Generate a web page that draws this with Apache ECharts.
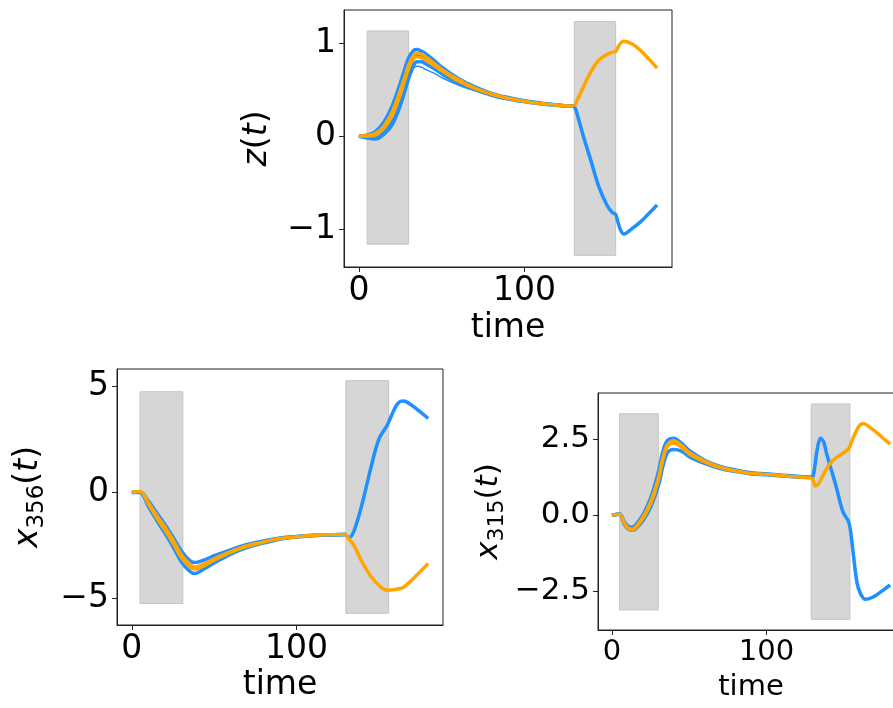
<!DOCTYPE html>
<html>
<head>
<meta charset="utf-8">
<script src="https://cdn.jsdelivr.net/npm/echarts@6/dist/echarts.min.js"></script>
<style>
html,body{margin:0;padding:0;background:#fff;}
#c{width:893px;height:708px;}
</style>
</head>
<body>
<div id="c"></div>
<script>
// ---------- Panel 1: z(t) ----------
var t1Pre = [0,5,10,15,20,25,28,30,33,35,38,40,45,50,60,70,80,90,100,110,120,130];
var zBlueA = [0,0.01,0.05,0.15,0.32,0.57,0.74,0.84,0.92,0.93,0.91,0.89,0.82,0.74,0.62,0.53,0.46,0.415,0.38,0.355,0.335,0.32];
var zBlueB = [0,-0.01,0.0,0.06,0.18,0.40,0.58,0.70,0.84,0.88,0.87,0.85,0.78,0.71,0.60,0.52,0.455,0.41,0.375,0.35,0.333,0.32];
var zBlueC = [0,-0.02,-0.03,0.02,0.12,0.33,0.50,0.62,0.76,0.80,0.80,0.78,0.73,0.67,0.57,0.50,0.44,0.40,0.37,0.345,0.33,0.32];
var zBlueD = [0,0,0.01,0.07,0.18,0.38,0.54,0.63,0.73,0.75,0.74,0.72,0.68,0.63,0.55,0.49,0.44,0.40,0.37,0.345,0.33,0.32];
var zOrangeA = [0,0.01,0.03,0.11,0.26,0.50,0.66,0.77,0.87,0.89,0.88,0.86,0.79,0.72,0.61,0.52,0.455,0.41,0.375,0.35,0.333,0.32];
var zOrangeB = [0,0,0.01,0.08,0.21,0.44,0.61,0.72,0.83,0.85,0.84,0.82,0.76,0.70,0.59,0.51,0.45,0.405,0.372,0.348,0.332,0.32];
var t1Post = [130,131,135,140,145,150,153,155,156,158,160,165,170,175,180];
var zBluePost = [0.32,0.28,0.03,-0.26,-0.55,-0.75,-0.82,-0.84,-0.90,-1.01,-1.05,-0.99,-0.92,-0.83,-0.74];
var zOrangePost = [0.32,0.36,0.51,0.69,0.82,0.88,0.90,0.91,0.94,1.0,1.02,0.99,0.92,0.83,0.73];
var zSpans = [[5,30,-1.16,1.13],[130,155,-1.28,1.23]];
var zTicks = [-1,0,1];

// ---------- Panel 2: x_356(t) ----------
var t2Pre = [0,5,10,15,20,25,30,35,38,40,45,50,60,70,80,90,100,110,120,130];
var aBlueA = [0,0.03,-0.4,-0.95,-1.5,-2.1,-2.75,-3.2,-3.3,-3.28,-3.15,-2.98,-2.7,-2.45,-2.28,-2.14,-2.07,-2.02,-1.99,-1.98];
var aBlueB = [0,0.0,-0.65,-1.3,-1.9,-2.55,-3.25,-3.7,-3.82,-3.78,-3.55,-3.32,-2.9,-2.6,-2.38,-2.2,-2.1,-2.04,-2.0,-1.98];
var aBlueC = [0,0.02,-0.52,-1.15,-1.7,-2.32,-3.0,-3.45,-3.58,-3.55,-3.38,-3.17,-2.8,-2.52,-2.33,-2.17,-2.09,-2.03,-1.99,-1.98];
var aOrangeA = [0,0.05,-0.45,-1.05,-1.6,-2.2,-2.9,-3.35,-3.5,-3.48,-3.32,-3.12,-2.78,-2.5,-2.32,-2.16,-2.08,-2.02,-1.98,-1.97];
var aOrangeB = [0,0.03,-0.55,-1.2,-1.78,-2.4,-3.08,-3.5,-3.62,-3.6,-3.42,-3.2,-2.83,-2.55,-2.35,-2.18,-2.1,-2.03,-1.99,-1.98];
var t2Post = [130,132,135,140,145,150,155,160,163,165,170,175,180];
var aBluePost = [-1.98,-2.12,-1.8,-0.5,1.1,2.5,3.15,4.0,4.28,4.3,4.1,3.8,3.48];
var aOrangePost = [-1.98,-2.2,-2.5,-3.3,-3.93,-4.37,-4.6,-4.57,-4.52,-4.47,-4.13,-3.74,-3.35];
var aSpans = [[5,31,-5.23,4.74],[130,156,-5.69,5.26]];
var aTicks = [-5,0,5];

// ---------- Panel 3: x_315(t) ----------
var t3Pre = [0,3,5,8,10,13,15,20,25,30,33,36,40,45,50,60,70,80,90,100,110,120,130];
var bBlueA = [0,0.02,0.03,-0.22,-0.35,-0.4,-0.35,0.0,0.55,1.4,2.1,2.45,2.52,2.36,2.12,1.8,1.6,1.48,1.39,1.35,1.31,1.27,1.24];
var bBlueB = [0,0.02,0.02,-0.3,-0.44,-0.5,-0.47,-0.2,0.25,0.95,1.6,2.05,2.15,2.1,1.92,1.7,1.53,1.43,1.35,1.32,1.28,1.25,1.23];
var bBlueC = [0,0.02,0.03,-0.26,-0.4,-0.46,-0.41,-0.1,0.39,1.16,1.87,2.3,2.41,2.26,2.03,1.76,1.57,1.46,1.37,1.34,1.3,1.26,1.24];
var bOrangeA = [0,0.02,0.02,-0.28,-0.43,-0.5,-0.45,-0.14,0.34,1.1,1.8,2.25,2.36,2.22,2.0,1.74,1.55,1.44,1.36,1.33,1.29,1.25,1.22];
var bOrangeB = [0,0.02,0.03,-0.25,-0.4,-0.46,-0.4,-0.07,0.44,1.22,1.92,2.32,2.45,2.3,2.06,1.78,1.58,1.46,1.37,1.34,1.3,1.26,1.24];
var t3BluePost = [130,131,133,135,137,139,141,145,149.5,153.4,156,158.6,161,164,168,172,176,180];
var bBluePost = [1.24,1.5,2.2,2.52,2.4,2.0,1.65,0.95,0.1,-0.26,-1.2,-2.23,-2.6,-2.77,-2.72,-2.6,-2.45,-2.3];
var t3OrangePost = [130,131.6,134,137,141,145,150,153.5,155,158,161,163,167,172,176,180];
var bOrangePost = [1.24,0.95,1.05,1.35,1.68,1.88,2.05,2.2,2.4,2.75,2.98,3.0,2.88,2.68,2.5,2.33];
var bSpans = [[5,30,-3.12,3.33],[129,154,-3.43,3.65]];
var bTicks = [-2.5,0,2.5];

var xTicks = [0,100];

// ---------- helpers ----------
var BLUE = '#1e90ff', ORANGE = '#ffa500';
var FONT = 'DejaVu Sans';
function zip(t, v){ return t.map(function(x,i){ return [x, v[i]]; }); }
function fmtMinus(s){ return s.charAt(0)==='-' ? '\u2212'+s.slice(1) : s; }

function line(idx, t, v, color, w){
  return {type:'line', xAxisIndex:idx, yAxisIndex:idx, data:zip(t,v), showSymbol:false, symbol:'none',
    smooth:0.35, lineStyle:{color:color, width:w}, silent:true, animation:false, z:3};
}
function spans(idx, list){
  return {type:'line', xAxisIndex:idx, yAxisIndex:idx, data:[], silent:true, animation:false, z:1,
    markArea:{silent:true, itemStyle:{color:'#d6d6d6', borderColor:'#c4c4c4', borderWidth:1},
      data:list.map(function(s){ return [{coord:[s[0],s[2]]},{coord:[s[1],s[3]]}]; })}};
}
function xAxis(idx, fs, gap){
  return {type:'value', gridIndex:idx, min:-9, max:189,
    name:'time', nameLocation:'middle', nameGap: gap,
    nameTextStyle:{fontFamily:FONT, fontSize:fs, color:'#000'},
    axisLine:{show:true, onZero:false, lineStyle:{color:'#222', width:1}},
    axisTick:{show:true, inside:false, length:5, customValues:xTicks, lineStyle:{color:'#222'}},
    axisLabel:{customValues:xTicks, margin:8, fontFamily:FONT, fontSize:fs, color:'#000'},
    splitLine:{show:false}};
}
function yAxis(idx, mn, mx, ticks, fs, nameRich, gap, fmt){
  return {type:'value', gridIndex:idx, min:mn, max:mx,
    name:nameRich, nameLocation:'middle', nameGap:gap,
    nameTextStyle:{fontFamily:FONT, fontSize:fs, color:'#000', rich:{
      i:{fontFamily:FONT, fontStyle:'italic', fontSize:fs, color:'#000', verticalAlign:'top', lineHeight:fs},
      n:{fontFamily:FONT, fontSize:fs, color:'#000', verticalAlign:'top', lineHeight:fs},
      s:{fontFamily:FONT, fontSize:Math.round(fs*0.7), color:'#000', verticalAlign:'top', padding:[Math.round(fs*0.42),0,0,0], lineHeight:Math.round(fs*0.7)}
    }},
    axisLine:{show:true, onZero:false, lineStyle:{color:'#222', width:1}},
    axisTick:{show:true, inside:false, length:5, customValues:ticks, lineStyle:{color:'#222'}},
    axisLabel:{customValues:ticks, margin:8, fontFamily:FONT, fontSize:fs, color:'#000', formatter:fmt},
    splitLine:{show:false}};
}
function fmtInt(v){ return fmtMinus(String(Math.round(v))); }
function fmt1(v){ return fmtMinus(v.toFixed(1)); }

var grids = [
  {left:344, top:10, width:328, height:257},
  {left:117, top:369, width:326, height:256},
  {left:598, top:393, width:306, height:237}
].map(function(g){ g.show=true; g.borderColor='#222'; g.borderWidth=1; g.backgroundColor='transparent';
  g.containLabel=false; g.outerBoundsMode='none'; return g; });

var series = [
  spans(0, zSpans),
  line(0, t1Pre, zBlueA, BLUE, 3.5),
  line(0, t1Pre, zBlueB, BLUE, 3.5),
  line(0, t1Pre, zBlueC, BLUE, 3.5),
  line(0, t1Pre, zBlueD, BLUE, 1.5),
  line(0, t1Pre, zOrangeA, ORANGE, 3),
  line(0, t1Pre, zOrangeB, ORANGE, 3),
  line(0, t1Post, zBluePost, BLUE, 3.5),
  line(0, t1Post, zOrangePost, ORANGE, 3.5),

  spans(1, aSpans),
  line(1, t2Pre, aBlueA, BLUE, 3.5),
  line(1, t2Pre, aBlueB, BLUE, 3.5),
  line(1, t2Pre, aBlueC, BLUE, 3.5),
  line(1, t2Pre, aOrangeA, ORANGE, 3),
  line(1, t2Pre, aOrangeB, ORANGE, 3),
  line(1, t2Post, aBluePost, BLUE, 3.5),
  line(1, t2Post, aOrangePost, ORANGE, 3.5),

  spans(2, bSpans),
  line(2, t3Pre, bBlueA, BLUE, 3.5),
  line(2, t3Pre, bBlueB, BLUE, 3.5),
  line(2, t3Pre, bBlueC, BLUE, 3.5),
  line(2, t3Pre, bOrangeA, ORANGE, 3),
  line(2, t3Pre, bOrangeB, ORANGE, 3),
  line(2, t3BluePost, bBluePost, BLUE, 3.5),
  line(2, t3OrangePost, bOrangePost, ORANGE, 3.5)
];

var chart = echarts.init(document.getElementById('c'), null, {renderer:'canvas'});
chart.setOption({
  backgroundColor:'#fff',
  animation:false,
  grid: grids,
  xAxis: [xAxis(0,33,45), xAxis(1,33,44), xAxis(2,29,43)],
  yAxis: [
    yAxis(0, -1.405, 1.355, zTicks, 33, '{i|z}{n|(}{i|t}{n|)}', 70, fmtInt),
    yAxis(1, -6.24, 5.81, aTicks, 33, '{i|x}{s|356}{n|(}{i|t}{n|)}', 72, fmtInt),
    yAxis(2, -3.78, 4.01, bTicks, 31, '{i|x}{s|315}{n|(}{i|t}{n|)}', 94, fmt1)
  ],
  series: series
});
</script>
</body>
</html>
